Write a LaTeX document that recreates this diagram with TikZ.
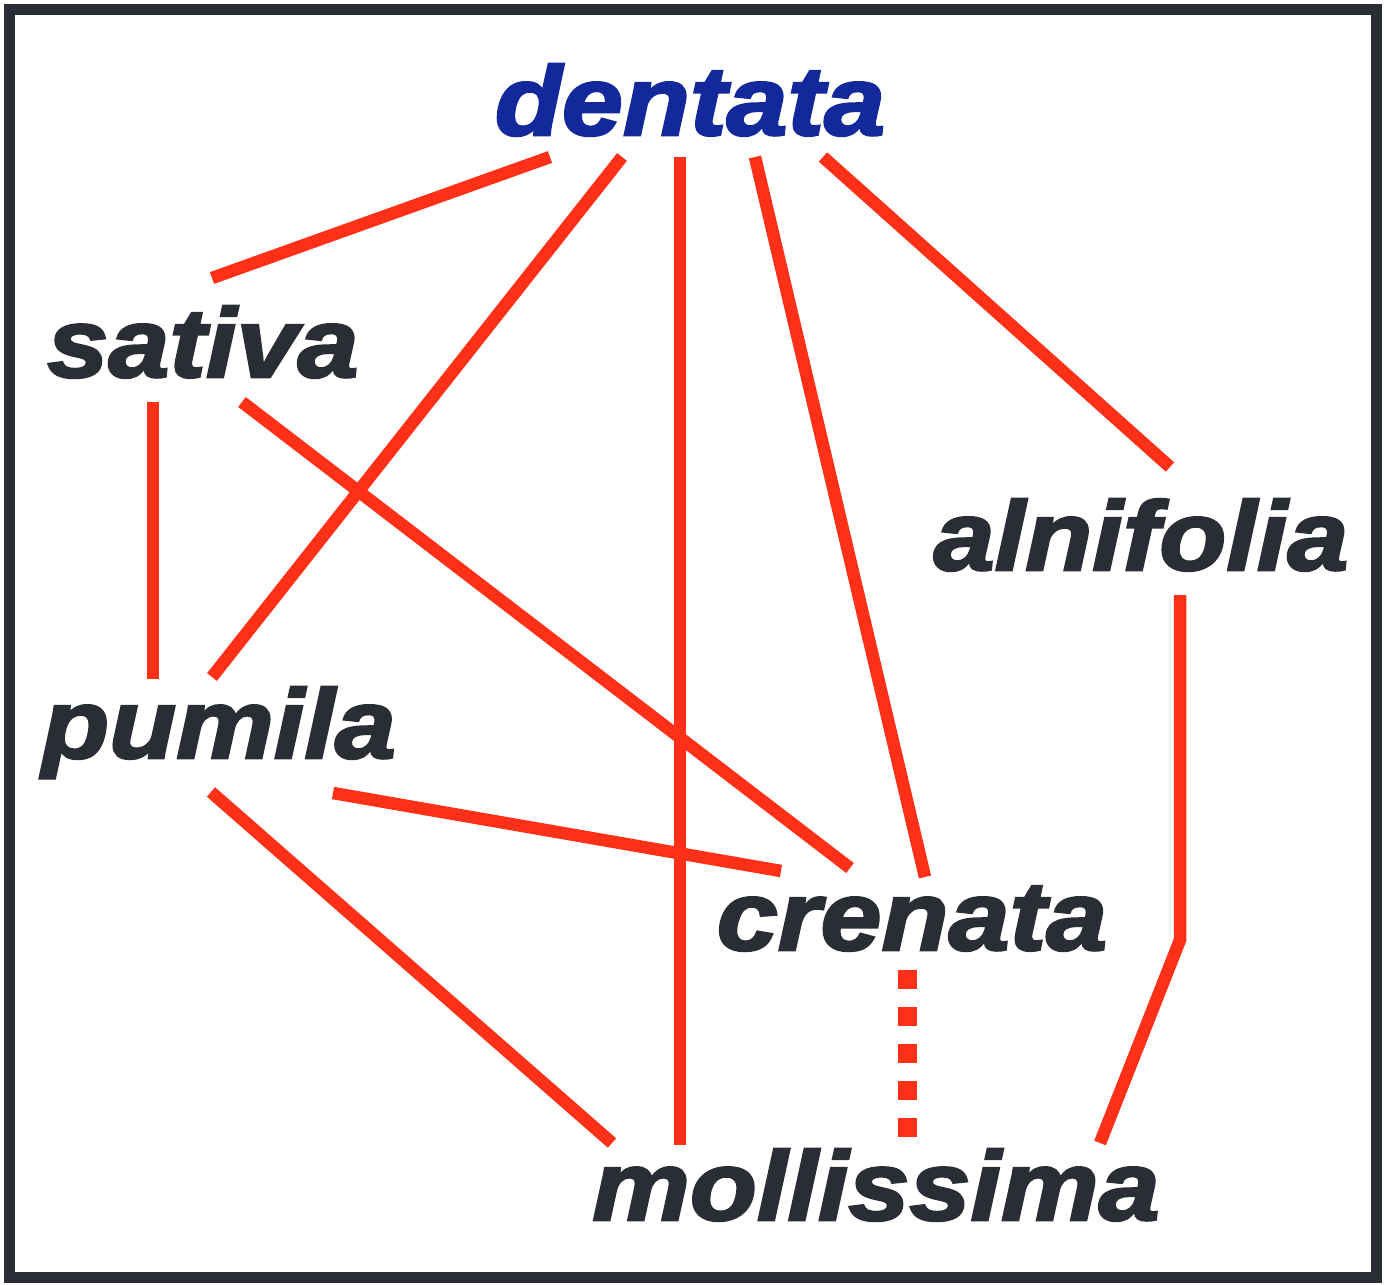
\documentclass[tikz,border=0pt]{standalone}
\usepackage{fontspec}
\usepackage{tikz}
\usetikzlibrary{calc}
\newfontfamily\labelfont[FakeBold=2.6,FakeStretch=1.12]{Liberation Sans}
\definecolor{linkred}{HTML}{FF3018}
\definecolor{inkgray}{HTML}{2B2D35}
\definecolor{rootblue}{HTML}{13289A}

\begin{document}
\begin{tikzpicture}[x=1pt,y=-1pt,
  lbl/.style={anchor=base,inner sep=0pt,text=inkgray,
    font=\labelfont\bfseries\itshape\fontsize{98}{100}\selectfont},
  link/.style={draw=linkred,line width=12.5pt},
  dotlink/.style={draw=linkred,line width=19pt,dash pattern=on 19pt off 18pt}]
  \useasboundingbox (0,0) rectangle (1385,1285);
  \draw[inkgray,line width=11pt] (9.5,9.5) rectangle (1376,1277);
  % species names
  \node[lbl,text=rootblue] (dentata) at (690,135) {dentata};
  \node[lbl] (sativa) at (203,377) {sativa};
  \node[lbl] (alnifolia) at (1141,570) {alnifolia};
  \node[lbl] (pumila) at (219,758) {pumila};
  \node[lbl] (crenata) at (912,950) {crenata};
  \node[lbl] (mollissima) at (876,1220) {mollissima};
  % links from dentata
  \draw[link] ($(dentata.base)+(-140,22)$) -- ($(sativa.base)+(9,-99)$);
  \draw[link] ($(dentata.base)+(-68,22)$) -- ($(pumila.base)+(-7,-81)$);
  \draw[link] ($(dentata.base)+(-10,22)$) -- ($(mollissima.base)+(-196,-75)$);
  \draw[link] ($(dentata.base)+(65,22)$) -- ($(crenata.base)+(13,-73)$);
  \draw[link] ($(dentata.base)+(133,22)$) -- ($(alnifolia.base)+(29,-103)$);
  % other links
  \draw[link] ($(sativa.base)+(-50,25)$) -- ($(pumila.base)+(-66,-79)$);
  \draw[link] ($(sativa.base)+(39,25)$) -- ($(crenata.base)+(-62,-82)$);
  \draw[link] ($(pumila.base)+(114,35)$) -- ($(crenata.base)+(-131,-79)$);
  \draw[link] ($(pumila.base)+(-8,34)$) -- ($(mollissima.base)+(-264,-77)$);
  \coordinate (bend) at ($(alnifolia.base)+(39,370)$);
  \draw[link] ($(alnifolia.base)+(39,25)$) -- (bend) -- ($(mollissima.base)+(224,-77)$);
  \draw[dotlink] ($(crenata.base)+(-5,20)$) -- ($(mollissima.base)+(31,-83)$);
\end{tikzpicture}
\end{document}
